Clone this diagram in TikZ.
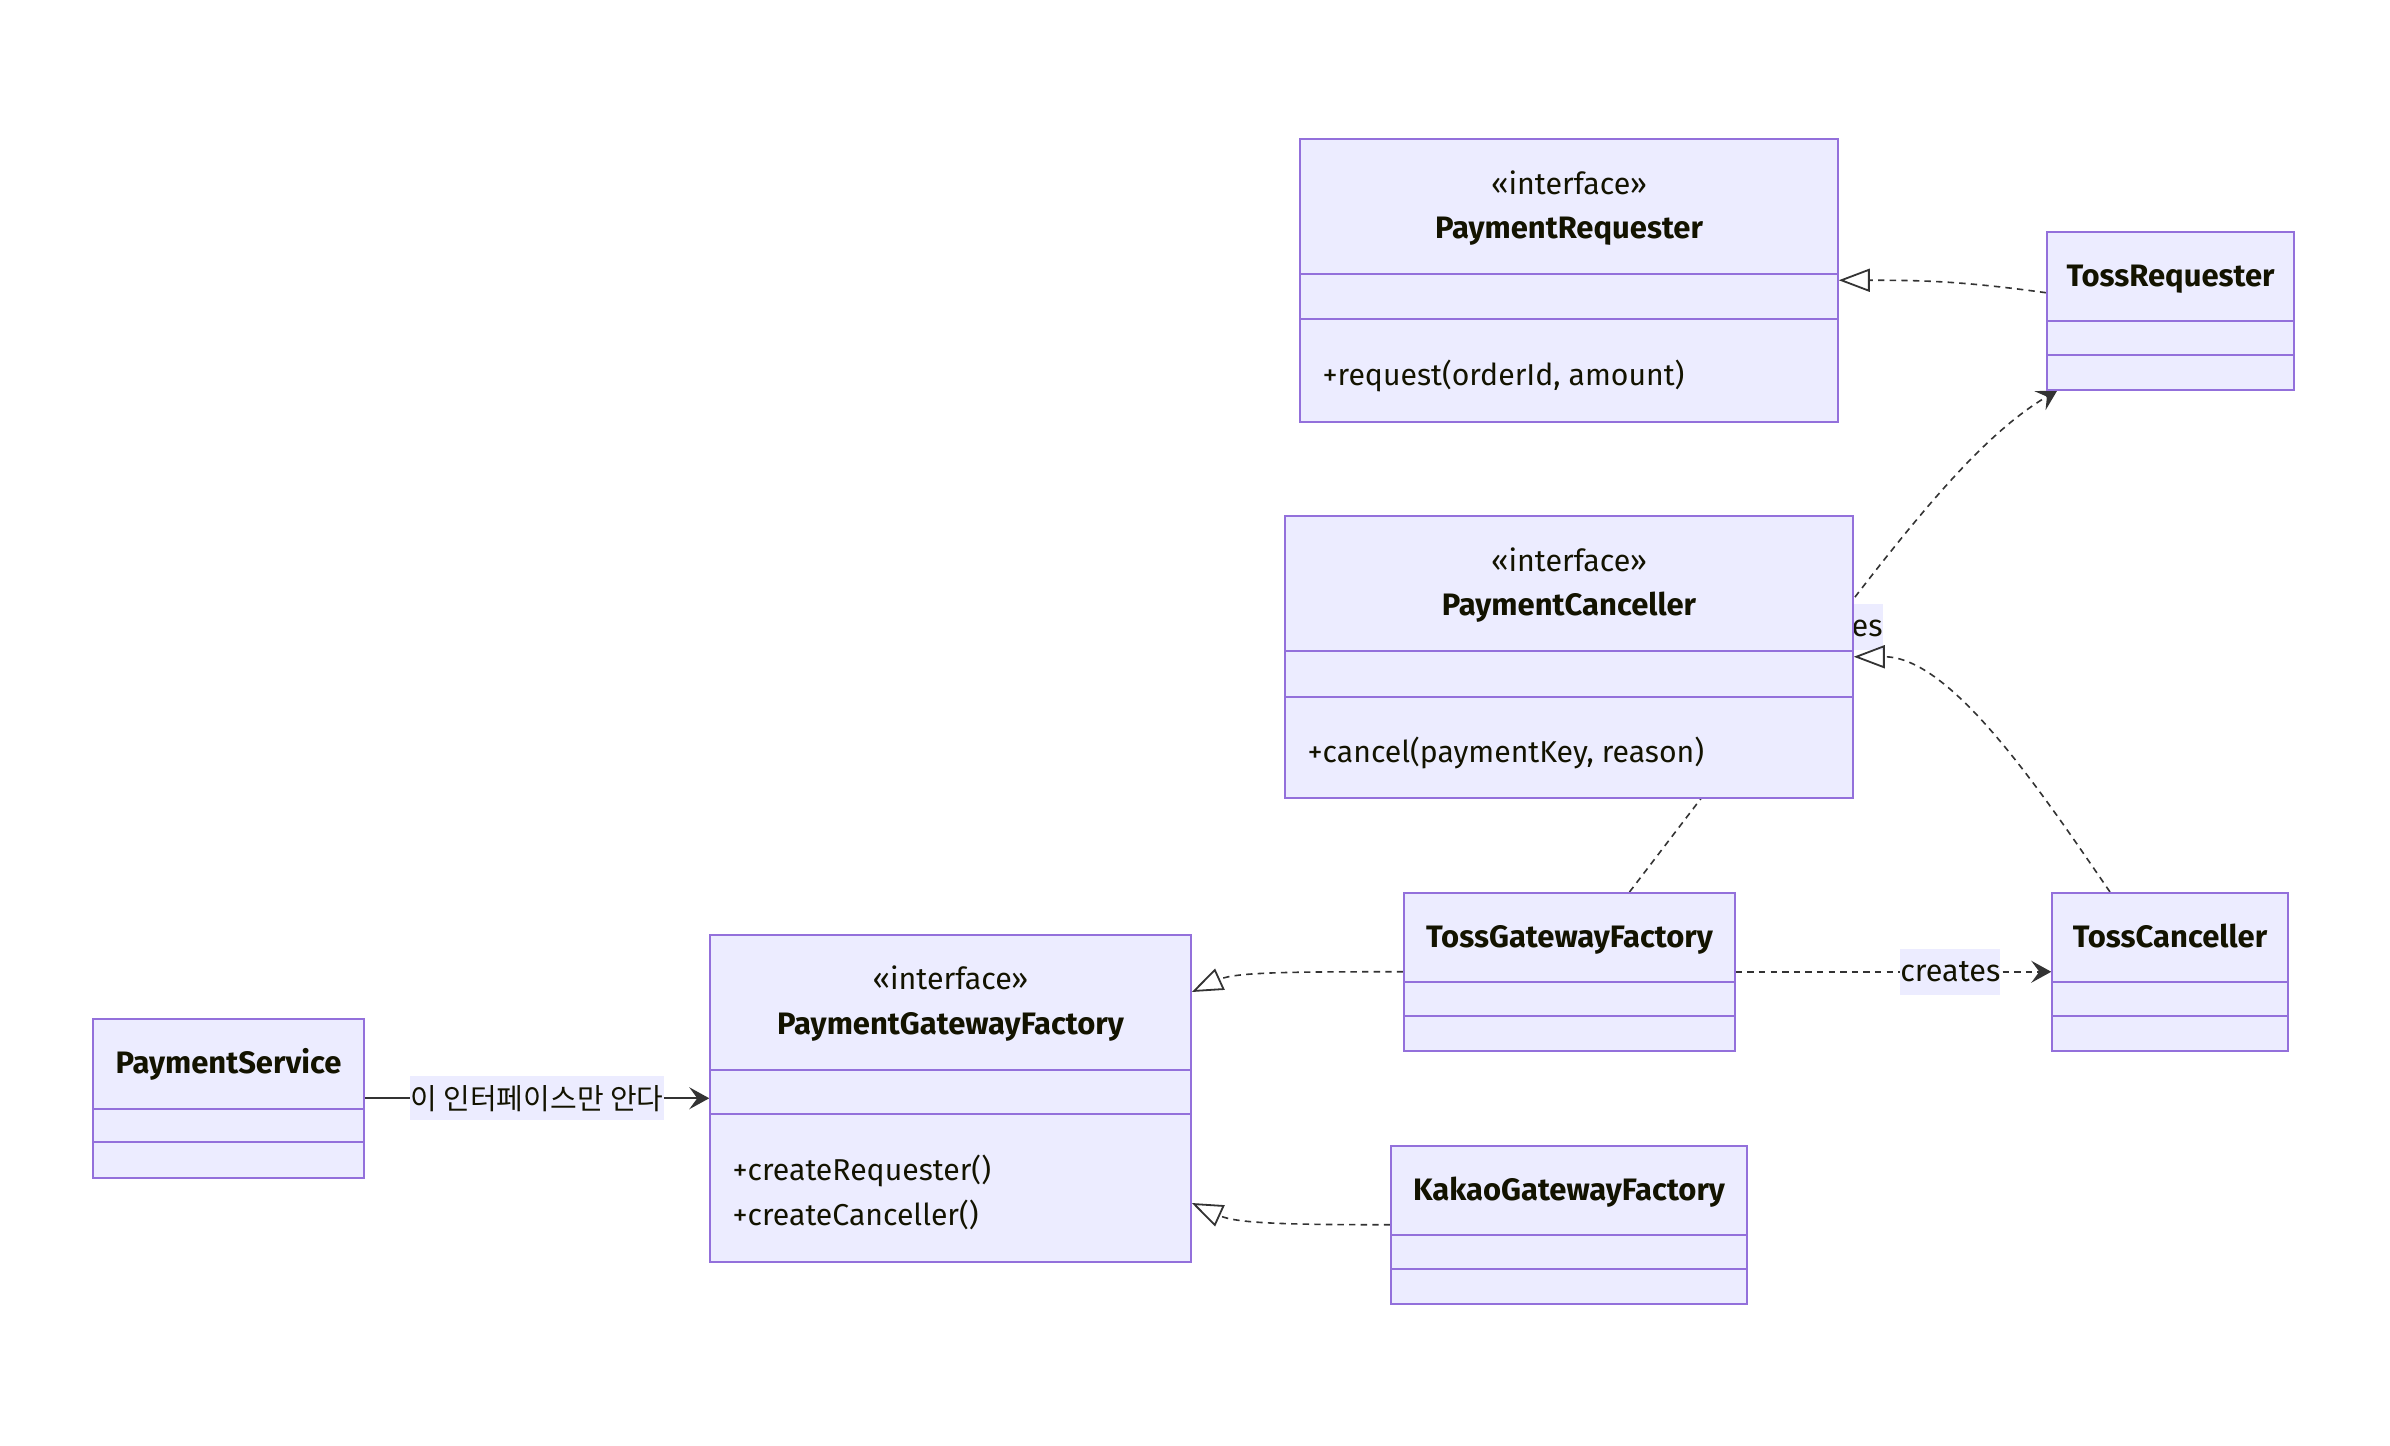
\documentclass[tikz,border=0pt]{standalone}
\usepackage{fontspec}
\setmainfont{Fira Sans}
\newfontfamily\krfont{Noto Sans CJK KR}
\usetikzlibrary{arrows.meta,calc}
\definecolor{boxfill}{HTML}{ECECFF}
\definecolor{boxline}{HTML}{9370DB}
\definecolor{txt}{HTML}{131300}
\definecolor{edgec}{HTML}{333333}
\pgfdeclarelayer{edgelayer}
\pgfsetlayers{edgelayer,main}
\begin{document}
\begin{tikzpicture}[x=0.5pt,y=-0.5pt,
  cls/.style={draw=boxline, fill=boxfill, line width=0.75pt, rectangle, inner sep=0pt, anchor=north},
  size/.style 2 args={minimum width=#1*0.5pt, minimum height=#2*0.5pt},
  sepline/.style={draw=boxline, line width=0.75pt},
  ttl/.style={font=\bfseries\fontsize{15.5}{18}\selectfont, text=txt, anchor=base, inner sep=0pt},
  ster/.style={font=\fontsize{15.2}{18}\selectfont, text=txt, anchor=base, inner sep=0pt},
  meth/.style={font=\fontsize{15.1}{18}\selectfont, text=txt, anchor=base west, inner sep=0pt},
  depline/.style={draw=edgec, line width=0.8pt, dash pattern=on 3.2pt off 2.6pt},
  solidline/.style={draw=edgec, line width=0.8pt},
  realize/.style={-{Triangle[open, length=15.5pt, width=11.5pt, line width=0.9pt]}},
  assoc/.style={-{Stealth[length=10pt, width=11pt, inset=4pt]}},
  lbl/.style={fill=boxfill, inner sep=0pt, text=txt, minimum height=23pt, font=\fontsize{15.3}{18}\selectfont},
  krlbl/.style={fill=boxfill, inner sep=0pt, text=txt, minimum height=22pt, font=\krfont\fontsize{14.5}{17}\selectfont}
]
\useasboundingbox (0,0) rectangle (2390,1446);

% ---------- PaymentRequester (interface)
\node[cls, size={538}{283}] (pr) at (1569,138) {};
\draw[sepline] ($(pr.north west)+(0,136)$) -- ($(pr.north east)+(0,136)$);
\draw[sepline] ($(pr.north west)+(0,181)$) -- ($(pr.north east)+(0,181)$);
\node[ster] (prs) at ($(pr.north)+(0,56)$) {«interface»};
\node[ttl] (prt) at ($(pr.north)+(0,100)$) {PaymentRequester};
\node[meth] (prm) at ($(pr.north west)+(23,247)$) {+request(orderId, amount)};

% ---------- TossRequester
\node[cls, size={247}{158}] (tr) at (2170.5,231) {};
\draw[sepline] ($(tr.north west)+(0,90)$) -- ($(tr.north east)+(0,90)$);
\draw[sepline] ($(tr.north west)+(0,124)$) -- ($(tr.north east)+(0,124)$);
\node[ttl] (trt) at ($(tr.north)+(0,55)$) {TossRequester};

% ---------- PaymentCanceller (interface)
\node[cls, size={568}{282}] (pc) at (1569,515) {};
\draw[sepline] ($(pc.north west)+(0,136)$) -- ($(pc.north east)+(0,136)$);
\draw[sepline] ($(pc.north west)+(0,182)$) -- ($(pc.north east)+(0,182)$);
\node[ster] (pcs) at ($(pc.north)+(0,56)$) {«interface»};
\node[ttl] (pct) at ($(pc.north)+(0,100)$) {PaymentCanceller};
\node[meth] (pcm) at ($(pc.north west)+(23,247)$) {+cancel(paymentKey, reason)};

% ---------- TossGatewayFactory
\node[cls, size={331}{158}] (tgf) at (1569.5,892) {};
\draw[sepline] ($(tgf.north west)+(0,90)$) -- ($(tgf.north east)+(0,90)$);
\draw[sepline] ($(tgf.north west)+(0,124)$) -- ($(tgf.north east)+(0,124)$);
\node[ttl] (tgft) at ($(tgf.north)+(0,55)$) {TossGatewayFactory};

% ---------- TossCanceller
\node[cls, size={236}{158}] (tc) at (2170,892) {};
\draw[sepline] ($(tc.north west)+(0,90)$) -- ($(tc.north east)+(0,90)$);
\draw[sepline] ($(tc.north west)+(0,124)$) -- ($(tc.north east)+(0,124)$);
\node[ttl] (tct) at ($(tc.north)+(0,55)$) {TossCanceller};

% ---------- PaymentGatewayFactory (interface)
\node[cls, size={481}{327}] (pgf) at (950.5,934) {};
\draw[sepline] ($(pgf.north west)+(0,136)$) -- ($(pgf.north east)+(0,136)$);
\draw[sepline] ($(pgf.north west)+(0,180)$) -- ($(pgf.north east)+(0,180)$);
\node[ster] (pgfs) at ($(pgf.north)+(0,55)$) {«interface»};
\node[ttl] (pgft) at ($(pgf.north)+(0,100)$) {PaymentGatewayFactory};
\node[meth] (pgfm1) at ($(pgf.north west)+(23,246)$) {+createRequester()};
\node[meth] (pgfm2) at ($(pgf.north west)+(23,291)$) {+createCanceller()};

% ---------- KakaoGatewayFactory
\node[cls, size={356}{158}] (kgf) at (1569,1145) {};
\draw[sepline] ($(kgf.north west)+(0,90)$) -- ($(kgf.north east)+(0,90)$);
\draw[sepline] ($(kgf.north west)+(0,124)$) -- ($(kgf.north east)+(0,124)$);
\node[ttl] (kgft) at ($(kgf.north)+(0,55)$) {KakaoGatewayFactory};

% ---------- PaymentService
\node[cls, size={271}{159}] (ps) at (228.5,1018) {};
\draw[sepline] ($(ps.north west)+(0,91)$) -- ($(ps.north east)+(0,91)$);
\draw[sepline] ($(ps.north west)+(0,124)$) -- ($(ps.north east)+(0,124)$);
\node[ttl] (pst) at ($(ps.north)+(0,55)$) {PaymentService};

% ---------- connectors (behind the boxes)
\begin{pgfonlayer}{edgelayer}
\fill[white] (0,0) rectangle (2390,1446);

\draw[solidline, assoc] (ps.east) -- node[krlbl] (l1) {이 인터페이스만 안다} (pgf.west);

\draw[depline, realize] (tgf.west) .. controls +(-110,0) and +(44,-20) .. ($(pgf.north east)+(0,58)$);
\draw[depline, realize] (kgf.west) .. controls +(-110,0) and +(44,20) .. ($(pgf.north east)+(0,269)$);

\draw[depline, assoc] (tgf.east) -- node[lbl, pos=0.68] (l2) {creates} (tc.west);

\draw[depline, assoc] ($(tgf.north)+(60,0)$) -- node[lbl, pos=0.9] (l3) {creates} ++(225.5,-295)
  .. controls +(75,-97) and +(-68,40) .. ($(tr.south west)+(11,0)$);

\draw[depline, realize] ($(tc.north)+(-60,0)$) .. controls +(-70,-102) and +(97,0) .. (pc.east);

\draw[depline, realize] ($(tr.west)+(0,-18)$) .. controls +(-87,-12) and +(81,0) .. (pr.east);
\end{pgfonlayer}
\end{tikzpicture}
\end{document}
